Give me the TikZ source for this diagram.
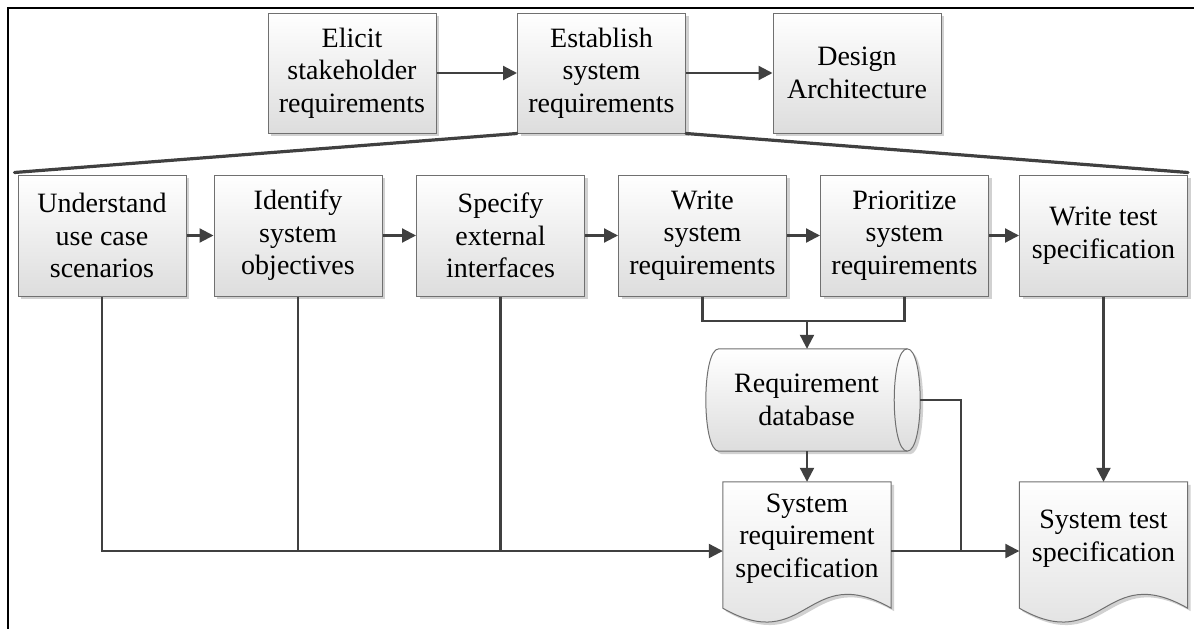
\documentclass[tikz,border=0pt]{standalone}
\usepackage{fontspec}
\setmainfont{Liberation Serif}
\usetikzlibrary{arrows.meta,shadows,backgrounds,calc}
\definecolor{ink}{HTML}{404040}
\definecolor{edge}{HTML}{707070}
\definecolor{shadeend}{HTML}{DDDDDD}

\begin{document}
\begin{tikzpicture}[x=1pt,y=-1pt,
  font=\fontsize{28}{32.5}\selectfont,
  softshadow/.style={drop shadow={shadow xshift=3pt,shadow yshift=-3pt,fill=black,opacity=0.18}},
  box/.style={rectangle, draw=edge, line width=1pt, top color=white, bottom color=shadeend,
    minimum width=168pt, minimum height=121pt, inner sep=0pt, align=center, softshadow},
  holder/.style={rectangle, inner sep=0pt, align=center},
  shapeface/.style={draw=edge, line width=1pt, top color=white, bottom color=shadeend, softshadow},
  conn/.style={draw=ink, line width=2.2pt},
  arr/.style={conn, -{Triangle[length=14pt,width=14pt]}},
  fan/.style={draw=ink, line width=3.2pt, line cap=round}]

\useasboundingbox (0,0) rectangle (1194,629);

% page frame (left and top rules)
\draw[line width=2.2pt] (7.7,629) -- (7.7,7.7) -- (1194,7.7);

% top level process
\node[box, minimum height=120pt] (elicit)    at (352,73)   {Elicit\\stakeholder\\requirements};
\node[box, minimum height=120pt] (establish) at (601.5,73) {Establish\\system\\requirements};
\node[box, minimum height=120pt] (design)    at (857,73)   {Design\\Architecture};

% detailed activities
\node[box] (understand) at (102,235.5)    {Understand\\use case\\scenarios};
\node[box] (identify)   at (298,235.5)    {Identify\\system\\objectives};
\node[box] (specify)    at (500.5,235.5)  {Specify\\external\\interfaces};
\node[box] (wsys)       at (702.5,235.5)  {Write\\system\\requirements};
\node[box] (prio)       at (904.5,235.5)  {Prioritize\\system\\requirements};
\node[box] (wtest)      at (1103.5,235.5) {Write test\\specification};

% data store and documents (text holders; outlines drawn behind)
\node[holder, minimum width=201pt, minimum height=102pt] (db) at (806.5,400) {Requirement\\database};
\node[holder, minimum width=168pt, minimum height=113pt] (sysreq)  at (807,538.5)    {System\\requirement\\specification};
\node[holder, minimum width=168pt, minimum height=113pt] (systest) at (1103.5,538.5) {System test\\specification};

\begin{scope}[on background layer]
  % horizontal cylinder: left end arc, body, visible right face
  \path[shapeface]
    ([xshift=13pt]db.north west) -- (db.north east)
    .. controls ([xshift=17.3pt]db.north east) and ([xshift=17.3pt]db.south east) .. (db.south east)
    -- ([xshift=13pt]db.south west)
    .. controls ([xshift=-4.3pt]db.south west) and ([xshift=-4.3pt]db.north west) .. ([xshift=13pt]db.north west)
    -- cycle;
  \draw[edge, line width=1pt] (db.north east)
    .. controls ([xshift=-17.3pt]db.north east) and ([xshift=-17.3pt]db.south east) .. (db.south east);
  % document shapes with wavy lower edge
  \foreach \d in {sysreq,systest}{
    \path[shapeface]
      (\d.north west) -- (\d.north east) -- ([yshift=-13pt]\d.south east)
      .. controls ([yshift=35pt]\d.south) and ([yshift=-61pt]\d.south) .. ([yshift=-13pt]\d.south west)
      -- cycle;
  }
\end{scope}

% decomposition fan
\draw[fan] (establish.south west) -- ([shift={(-3pt,2pt)}]understand.north west);
\draw[fan] (establish.south east) -- ([yshift=2pt]wtest.north east);

% flow between top level steps
\draw[arr] (elicit) -- (establish);
\draw[arr] (establish) -- (design);

% flow between activities
\draw[arr] (understand) -- (identify);
\draw[arr] (identify) -- (specify);
\draw[arr] (specify) -- (wsys);
\draw[arr] (wsys) -- (prio);
\draw[arr] (prio) -- (wtest);

% requirements into the database
\coordinate (jn) at (807,321);
\draw[conn] (wsys.south) |- (jn) -| (prio.south);
\draw[arr] (jn) -- (jn |- db.north);
\draw[arr] (db.south -| sysreq.north) -- (sysreq.north);

% inputs collected into the requirement specification
\coordinate (bus) at ([yshift=-12.5pt]sysreq.west);
\draw[arr] (understand.south) |- (bus);
\draw[conn] (identify.south) -- (identify.south |- bus);
\draw[conn] (specify.south) -- (specify.south |- bus);

% inputs of the system test specification
\coordinate (tj) at ([xshift=70pt,yshift=-12.5pt]sysreq.east);
\draw[arr] ([yshift=-12.5pt]sysreq.east) -- ([yshift=-12.5pt]systest.west);
\draw[conn] ([xshift=13pt]db.east) -| (tj);
\draw[arr] (wtest.south) -- (systest.north);
\end{tikzpicture}
\end{document}
